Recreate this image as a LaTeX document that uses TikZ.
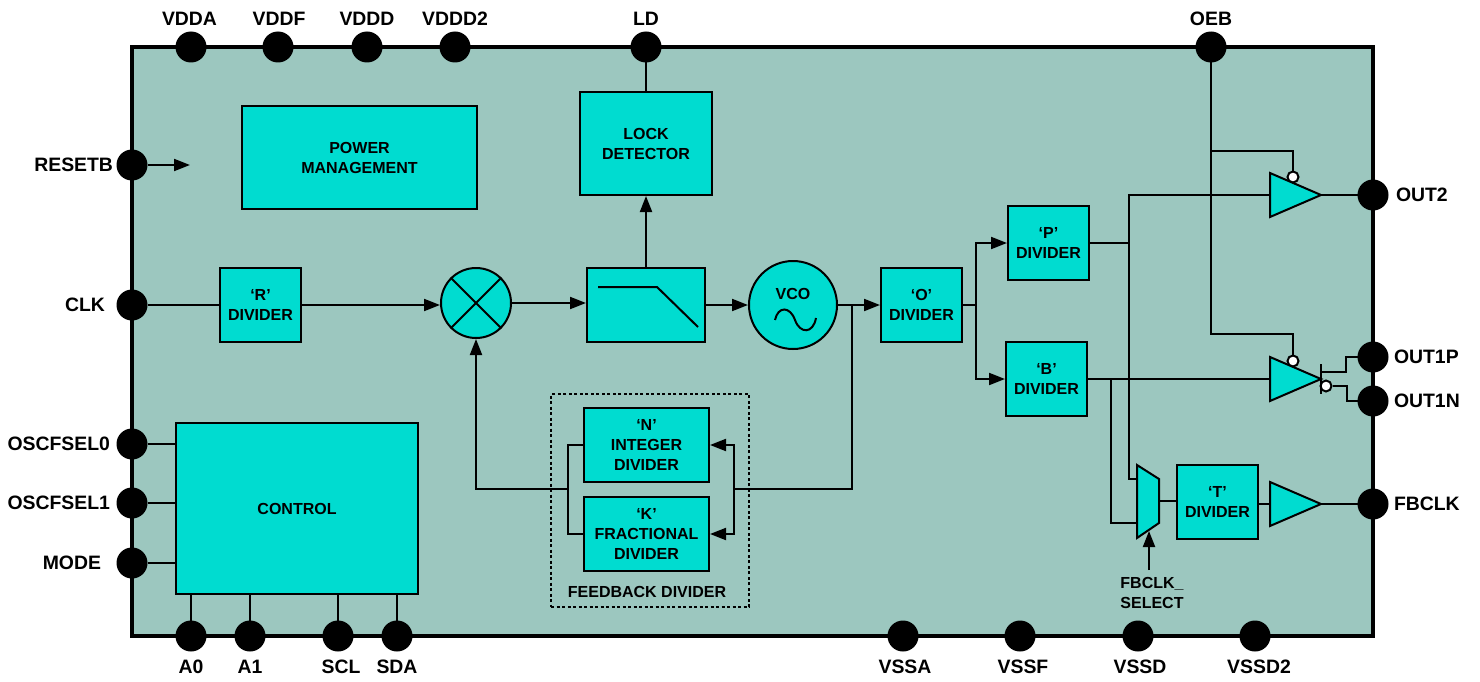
\documentclass[tikz,border=0pt]{standalone}
\usepackage{xcolor}
\usepackage{fontspec}
\setmainfont{Liberation Sans}
\usetikzlibrary{positioning,arrows.meta,shapes.geometric}

\definecolor{chipback}{HTML}{9CC7BF}
\definecolor{blockfill}{HTML}{00DCD0}

\tikzset{
  blockbox/.style={draw, fill=blockfill, rectangle, line width=2pt, inner sep=0pt, align=center,
    font=\fontsize{16}{20}\selectfont\bfseries},
  dividerbox/.style={blockbox, minimum width=81pt, minimum height=74pt},
  padnode/.style={circle, fill=black, minimum size=31pt, inner sep=0pt, outer sep=0pt},
  padtext/.style={inner sep=0pt, outer sep=0pt, text height=13.6pt, text depth=0pt, font=\fontsize{19.4}{22}\selectfont\bfseries},
  smalltext/.style={inner sep=0pt, align=left, font=\fontsize{16}{20}\selectfont\bfseries},
  driverbox/.style={draw, fill=blockfill, line width=2pt, inner sep=0pt, outer sep=0pt, isosceles triangle,
    isosceles triangle stretches, shape border rotate=0, minimum width=44pt, minimum height=51pt, anchor=apex},
  bubble/.style={circle, draw, fill=white, line width=2pt, minimum size=11pt, inner sep=0pt},
}

\begin{document}
\begin{tikzpicture}[x=1pt, y=-1pt, line width=2pt, >={Triangle[length=16pt,width=12pt]}]
  \useasboundingbox (0,0) rectangle (1480,682);

  % chip body
  \draw[fill=chipback, line width=3.5pt] (132,47) rectangle (1373,636);

  % blocks
  \node (powerMgmt) [blockbox, minimum width=235pt, minimum height=103pt] at (359.5,157.5) {POWER\\MANAGEMENT};
  \node (lockDet) [blockbox, minimum width=132pt, minimum height=103pt] at (646,143.5) {LOCK\\DETECTOR};
  \node (rDivider) [dividerbox] at (260.5,305) {‘R’\\DIVIDER};
  \node (mixer) [circle, draw, fill=blockfill, minimum size=70pt, inner sep=0pt] at (476,303) {};
  \node (filter) [blockbox, minimum width=118pt, minimum height=74pt] at (646,305) {};
  \node (vco) [circle, draw, fill=blockfill, minimum size=88pt, inner sep=0pt] at (793,305) {};
  \node (vcoText) [smalltext] at (793,294) {VCO};
  \node (oDivider) [dividerbox] at (921.5,305) {‘O’\\DIVIDER};
  \node (pDivider) [dividerbox] at (1048.5,243) {‘P’\\DIVIDER};
  \node (bDivider) [dividerbox] at (1046.5,379) {‘B’\\DIVIDER};
  \node (tDivider) [dividerbox] at (1217.5,501.5) {‘T’\\DIVIDER};
  \node (control) [blockbox, minimum width=242pt, minimum height=171pt] at (297,508.5) {CONTROL};

  % feedback divider
  \node (fbGroup) [draw, line width=1.5pt, dash pattern=on 3pt off 2.5pt, minimum width=198pt, minimum height=213pt] at (650,500.5) {};
  \node (nDivider) [blockbox, minimum width=125pt, minimum height=74pt] at (646.5,445) {‘N’\\INTEGER\\DIVIDER};
  \node (kDivider) [blockbox, minimum width=125pt, minimum height=74pt] at (646.5,534) {‘K’\\FRACTIONAL\\DIVIDER};
  \node (fbText) [smalltext] at (647,592) {FEEDBACK DIVIDER};

  % symbols inside the mixer, filter and vco
  \draw (mixer.north west) -- (mixer.south east);
  \draw (mixer.north east) -- (mixer.south west);
  \draw (598,287) -- (657,287) -- (698,327);
  \draw (775,320) .. controls (778,306) and (790,306) .. (795,320) .. controls (800,334) and (813,334) .. (816,318);

  % buffers and mux
  \node (bufTwo) [driverbox] at (1321,195) {};
  \node (bufOne) [driverbox] at (1321,379) {};
  \node (bufFb) [driverbox] at (1321,504) {};
  \node (enTwo) [bubble] at (1293,177) {};
  \node (enOne) [bubble] at (1293,361) {};
  \draw[fill=blockfill] (1137,465) -- (1159,479) -- (1159,523) -- (1137,538) -- cycle;
  \coordinate (muxInA) at (1137,479);
  \coordinate (muxInB) at (1137,523);
  \coordinate (muxOut) at (1159,501);
  \coordinate (selectIn) at (1149,570);
  \coordinate (selectTip) at (1149,531);
  \node (fbSelect) [smalltext] at (1152,593) {FBCLK\_\\SELECT};

  % pads, top
  \node (vdda) [padnode] at (191,47) {};
  \node (vddf) [padnode] at (278,47) {};
  \node (vddd) [padnode] at (367,47) {};
  \node (vdddTwo) [padnode] at (455,47) {};
  \node (ld) [padnode] at (646,47) {};
  \node (oeb) [padnode] at (1211,47) {};
  \node (vddaText) [padtext, above=5.7pt of vdda, xshift=-1.5pt] {VDDA};
  \node (vddfText) [padtext, above=5.7pt of vddf, xshift=1pt] {VDDF};
  \node (vdddText) [padtext, above=5.7pt of vddd] {VDDD};
  \node (vdddTwoText) [padtext, above=5.7pt of vdddTwo] {VDDD2};
  \node (ldText) [padtext, above=5.7pt of ld] {LD};
  \node (oebText) [padtext, above=5.7pt of oeb] {OEB};

  % pads, left
  \node (resetb) [padnode] at (132,165) {};
  \node (clk) [padnode] at (132,305) {};
  \node (oscZero) [padnode] at (132,444) {};
  \node (oscOne) [padnode] at (132,503) {};
  \node (mode) [padnode] at (132,563) {};
  \node (resetbText) [padtext, left=3.5pt of resetb] {RESETB};
  \node (clkText) [padtext, left=11.5pt of clk] {CLK};
  \node (oscZeroText) [padtext, left=6.5pt of oscZero] {OSCFSEL0};
  \node (oscOneText) [padtext, left=6.5pt of oscOne] {OSCFSEL1};
  \node (modeText) [padtext, left=15.5pt of mode] {MODE};

  % pads, right
  \node (outTwo) [padnode] at (1373,195) {};
  \node (outOneP) [padnode] at (1373,357) {};
  \node (outOneN) [padnode] at (1373,401) {};
  \node (fbclk) [padnode] at (1373,504) {};
  \node (outTwoText) [padtext, right=7.5pt of outTwo] {OUT2};
  \node (outOnePText) [padtext, right=5.5pt of outOneP] {OUT1P};
  \node (outOneNText) [padtext, right=5.5pt of outOneN] {OUT1N};
  \node (fbclkText) [padtext, right=5.5pt of fbclk] {FBCLK};

  % pads, bottom
  \node (aZero) [padnode] at (191,636) {};
  \node (aOne) [padnode] at (250,636) {};
  \node (scl) [padnode] at (338,636) {};
  \node (sda) [padnode] at (397,636) {};
  \node (vssa) [padnode] at (903,636) {};
  \node (vssf) [padnode] at (1020,636) {};
  \node (vssd) [padnode] at (1138,636) {};
  \node (vssdTwo) [padnode] at (1255,636) {};
  \node (aZeroText) [padtext, below=8.7pt of aZero] {A0};
  \node (aOneText) [padtext, below=8.7pt of aOne] {A1};
  \node (sclText) [padtext, below=8.7pt of scl, xshift=3pt] {SCL};
  \node (sdaText) [padtext, below=8.7pt of sda] {SDA};
  \node (vssaText) [padtext, below=8.7pt of vssa, xshift=2pt] {VSSA};
  \node (vssfText) [padtext, below=8.7pt of vssf, xshift=3pt] {VSSF};
  \node (vssdText) [padtext, below=8.7pt of vssd, xshift=2pt] {VSSD};
  \node (vssdTwoText) [padtext, below=8.7pt of vssdTwo, xshift=4pt] {VSSD2};

  % free ends and joints
  \coordinate (resetTip) at (190,165);
  \coordinate (vcoTap) at (852,305);
  \coordinate (sumRight) at (734,489);
  \coordinate (sumLeft) at (568,489);
  \coordinate (oTap) at (976,305);
  \coordinate (pTap) at (1129,243);
  \coordinate (bTap) at (1111,379);
  \coordinate (enTwoTap) at (1211,151);
  \coordinate (enOneTap) at (1211,334);
  \coordinate (barTop) at (1321,364);
  \coordinate (barLow) at (1321,394);
  \coordinate (barP) at (1321,372);
  \node (enBar) [bubble] at (1326,386) {};

  % arrows
  \draw[->] (resetb) -- (resetTip);
  \draw (clk) -- (rDivider);
  \draw[->] (rDivider.east) -- (rDivider.east -| mixer.west);
  \draw[->] (mixer.east) -- (mixer.east -| filter.west);
  \draw[->] (filter) -- (lockDet);
  \draw (lockDet) -- (ld);
  \draw[->] (filter) -- (vco);
  \draw[->] (vco) -- (oDivider);
  \draw (vcoTap) |- (sumRight);
  \draw[->] (sumRight) |- (nDivider.east);
  \draw[->] (sumRight) |- (kDivider.east);
  \draw (nDivider.west) -| (sumLeft);
  \draw (kDivider.west) -| (sumLeft);
  \draw[->] (sumLeft) -| (mixer.south);
  \draw (oDivider) -- (oTap);
  \draw[->] (oTap) |- (pDivider.west);
  \draw[->] (oTap) |- (bDivider.west);

  % output side
  \draw (pDivider.east) -- (pTap);
  \draw (pTap) |- (bufTwo.lower side);
  \draw (pTap) |- (muxInA);
  \draw (bDivider.east) -- (bufOne.lower side);
  \draw (bTap) |- (muxInB);
  \draw (muxOut) -- (muxOut -| tDivider.west);
  \draw (tDivider.east |- bufFb.lower side) -- (bufFb.lower side);
  \draw (bufFb.apex) -- (fbclk);
  \draw (bufTwo.apex) -- (outTwo);
  \draw (oeb) -- (enOneTap) -| (enOne);
  \draw (enTwoTap) -| (enTwo);
  \draw (barTop) -- (barLow);
  \draw (barP) -- ++(25,0) |- (outOneP);
  \draw (enBar.east) -- ++(14.5,0) |- (outOneN);
  \draw[->] (selectIn) -- (selectTip);

  % control
  \draw (oscZero) -- (oscZero -| control.west);
  \draw (oscOne) -- (oscOne -| control.west);
  \draw (mode) -- (mode -| control.west);
  \draw (aZero) -- (aZero |- control.south);
  \draw (aOne) -- (aOne |- control.south);
  \draw (scl) -- (scl |- control.south);
  \draw (sda) -- (sda |- control.south);
\end{tikzpicture}
\end{document}
